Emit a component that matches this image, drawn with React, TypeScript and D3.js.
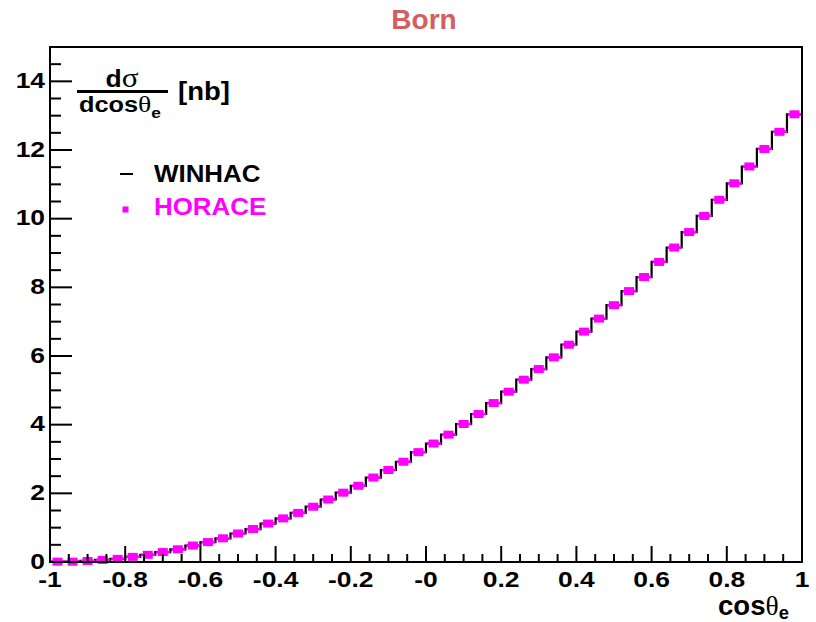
import React from "react";
import * as d3 from "d3";

// Histogram binning: 50 bins over cos(theta_e) in [-1, 1]
const X_MIN = -1;
const X_MAX = 1;
const N_BINS = 50;

// Born-level dσ/dcosθe [nb], one value per bin
const winhacValues = [
  0.01, 0.01, 0.03, 0.06, 0.09, 0.15, 0.21, 0.29, 0.37, 0.48,
  0.58, 0.69, 0.83, 0.96, 1.12, 1.27, 1.43, 1.61, 1.82, 2.02,
  2.22, 2.46, 2.68, 2.92, 3.2, 3.45, 3.71, 4.02, 4.31, 4.63,
  4.96, 5.31, 5.62, 5.96, 6.33, 6.71, 7.09, 7.48, 7.89, 8.3,
  8.74, 9.16, 9.61, 10.08, 10.55, 11.03, 11.52, 12.03, 12.53, 13.04,
];
const horaceValues = [
  0.01, 0.01, 0.03, 0.06, 0.09, 0.15, 0.21, 0.29, 0.37, 0.48,
  0.58, 0.69, 0.83, 0.96, 1.12, 1.27, 1.43, 1.61, 1.82, 2.02,
  2.22, 2.46, 2.68, 2.92, 3.2, 3.45, 3.71, 4.02, 4.31, 4.63,
  4.96, 5.31, 5.62, 5.96, 6.33, 6.71, 7.09, 7.48, 7.89, 8.3,
  8.74, 9.16, 9.61, 10.08, 10.55, 11.03, 11.52, 12.03, 12.53, 13.04,
];

const xMajorTicks = [-1, -0.8, -0.6, -0.4, -0.2, 0, 0.2, 0.4, 0.6, 0.8, 1];
const xTickLabels = ["-1", "-0.8", "-0.6", "-0.4", "-0.2", "-0", "0.2", "0.4", "0.6", "0.8", "1"];
const yMajorTicks = [0, 2, 4, 6, 8, 10, 12, 14];
const yTickLabels = ["0", "2", "4", "6", "8", "10", "12", "14"];

const seriesNames = ["WINHAC", "HORACE"];
const seriesColors = ["#000000", "#ff00ff"];
const chartTitle = "Born";

const W = 816;
const H = 622;
const frame = { left: 50, right: 802, top: 47, bottom: 562 };

const SANS = "'Liberation Sans', Arial, Helvetica, sans-serif";
const SERIF = "'Liberation Serif', 'DejaVu Serif', serif";

function SText({ x, y, sx = 1, anchor = "start", size, children, fill = "#000", weight = "bold", family = SANS }: any) {
  return (
    <text
      transform={`translate(${x},${y}) scale(${sx},1)`}
      textAnchor={anchor}
      fontSize={size}
      fontWeight={weight}
      fontFamily={family}
      fill={fill}
    >
      {children}
    </text>
  );
}

export default function App() {
  const x = d3.scaleLinear().domain([X_MIN, X_MAX]).range([frame.left, frame.right]);
  const y = d3.scaleLinear().domain([0, 15]).range([frame.bottom, frame.top]);

  const binWidth = (X_MAX - X_MIN) / N_BINS;
  const edges = d3.range(N_BINS + 1).map((i) => X_MIN + i * binWidth);

  const stepPoints: [number, number][] = winhacValues.map((v, i) => [edges[i], v]);
  stepPoints.push([edges[N_BINS], winhacValues[N_BINS - 1]]);
  const stepLine = d3
    .line<[number, number]>()
    .x((d) => x(d[0]))
    .y((d) => y(d[1]))
    .curve(d3.curveStepAfter);

  const xMinor = d3.range(0, 41).map((i) => X_MIN + i * 0.05);
  const yMinor = d3.range(0, 30).map((i) => i * 0.5);

  const markerW = 10;
  const markerH = 8;

  return (
    <svg
      width={W}
      height={H}
      style={{ position: "absolute", left: 0, top: 0, background: "#fff" }}
    >
      <rect x={0} y={0} width={W} height={H} fill="#fff" />

      {/* title */}
      <SText x={424} y={29} anchor="middle" size={28} fill="#d35f5f">
        {chartTitle}
      </SText>

      {/* WINHAC histogram outline */}
      <path d={stepLine(stepPoints) || ""} fill="none" stroke={seriesColors[0]} strokeWidth={2.2} />

      {/* HORACE points with bin-width bars */}
      <g>
        {horaceValues.map((v, i) => (
          <g key={i}>
            <line
              x1={x(edges[i]) + 1}
              x2={x(edges[i + 1])}
              y1={y(v)}
              y2={y(v)}
              stroke={seriesColors[1]}
              strokeWidth={2.5}
            />
            <rect
              x={x((edges[i] + edges[i + 1]) / 2) - markerW / 2}
              y={y(v) - markerH / 2}
              width={markerW}
              height={markerH}
              fill={seriesColors[1]}
            />
          </g>
        ))}
      </g>

      {/* frame */}
      <rect
        x={frame.left}
        y={frame.top}
        width={frame.right - frame.left}
        height={frame.bottom - frame.top}
        fill="none"
        stroke="#000"
        strokeWidth={2}
      />

      {/* x ticks */}
      {xMinor.map((t, i) => {
        const major = i % 4 === 0;
        return (
          <line
            key={"xm" + i}
            x1={x(t)}
            x2={x(t)}
            y1={frame.bottom}
            y2={frame.bottom - (major ? 16 : 8)}
            stroke="#000"
            strokeWidth={2}
          />
        );
      })}
      {xMajorTicks.map((t, i) => (
        <SText key={"xl" + i} x={x(t)} y={587} anchor="middle" size={22} sx={1.2}>
          {xTickLabels[i]}
        </SText>
      ))}

      {/* y ticks */}
      {yMinor.map((t, i) => {
        const major = i % 4 === 0;
        return (
          <line
            key={"ym" + i}
            x1={frame.left}
            x2={frame.left + (major ? 22 : 11)}
            y1={y(t)}
            y2={y(t)}
            stroke="#000"
            strokeWidth={2}
          />
        );
      })}
      {yMajorTicks.map((t, i) => (
        <SText key={"yl" + i} x={45} y={y(t) + 6.5} anchor="end" size={22} sx={1.2}>
          {yTickLabels[i]}
        </SText>
      ))}

      {/* x-axis title */}
      <g transform="translate(718,615) scale(1.02,1)">
        <text fontSize={27} fontWeight="bold" fontFamily={SANS} fill="#000">
          cos
          <tspan fontFamily={SERIF} fontWeight="normal">θ</tspan>
          <tspan fontSize={18} dy={4}>e</tspan>
        </text>
      </g>

      {/* y-axis title: dσ / dcosθe [nb] */}
      <g transform="translate(122,87) scale(1.15,1)">
        <text textAnchor="middle" fontSize={23} fontWeight="bold" fontFamily={SANS} fill="#000">
          d<tspan fontFamily={SERIF} fontWeight="normal" fontSize={27}>σ</tspan>
        </text>
      </g>
      <line x1={77} x2={168} y1={91.5} y2={91.5} stroke="#000" strokeWidth={3} />
      <g transform="translate(79,111.5) scale(1.15,1)">
        <text fontSize={22} fontWeight="bold" fontFamily={SANS} fill="#000">
          dcos
          <tspan fontFamily={SERIF} fontWeight="normal" fontSize={24}>θ</tspan>
          <tspan fontSize={15} dy={6}>e</tspan>
        </text>
      </g>
      <SText x={178} y={100} size={25} sx={1.1}>
        [nb]
      </SText>

      {/* legend */}
      <line x1={120} x2={133} y1={174} y2={174} stroke={seriesColors[0]} strokeWidth={2} />
      <SText x={154} y={182} size={24} sx={1.08}>
        {seriesNames[0]}
      </SText>
      <rect x={122.5} y={206.5} width={6} height={6} fill={seriesColors[1]} />
      <SText x={154} y={215} size={24} sx={1.08} fill={seriesColors[1]}>
        {seriesNames[1]}
      </SText>
    </svg>
  );
}
